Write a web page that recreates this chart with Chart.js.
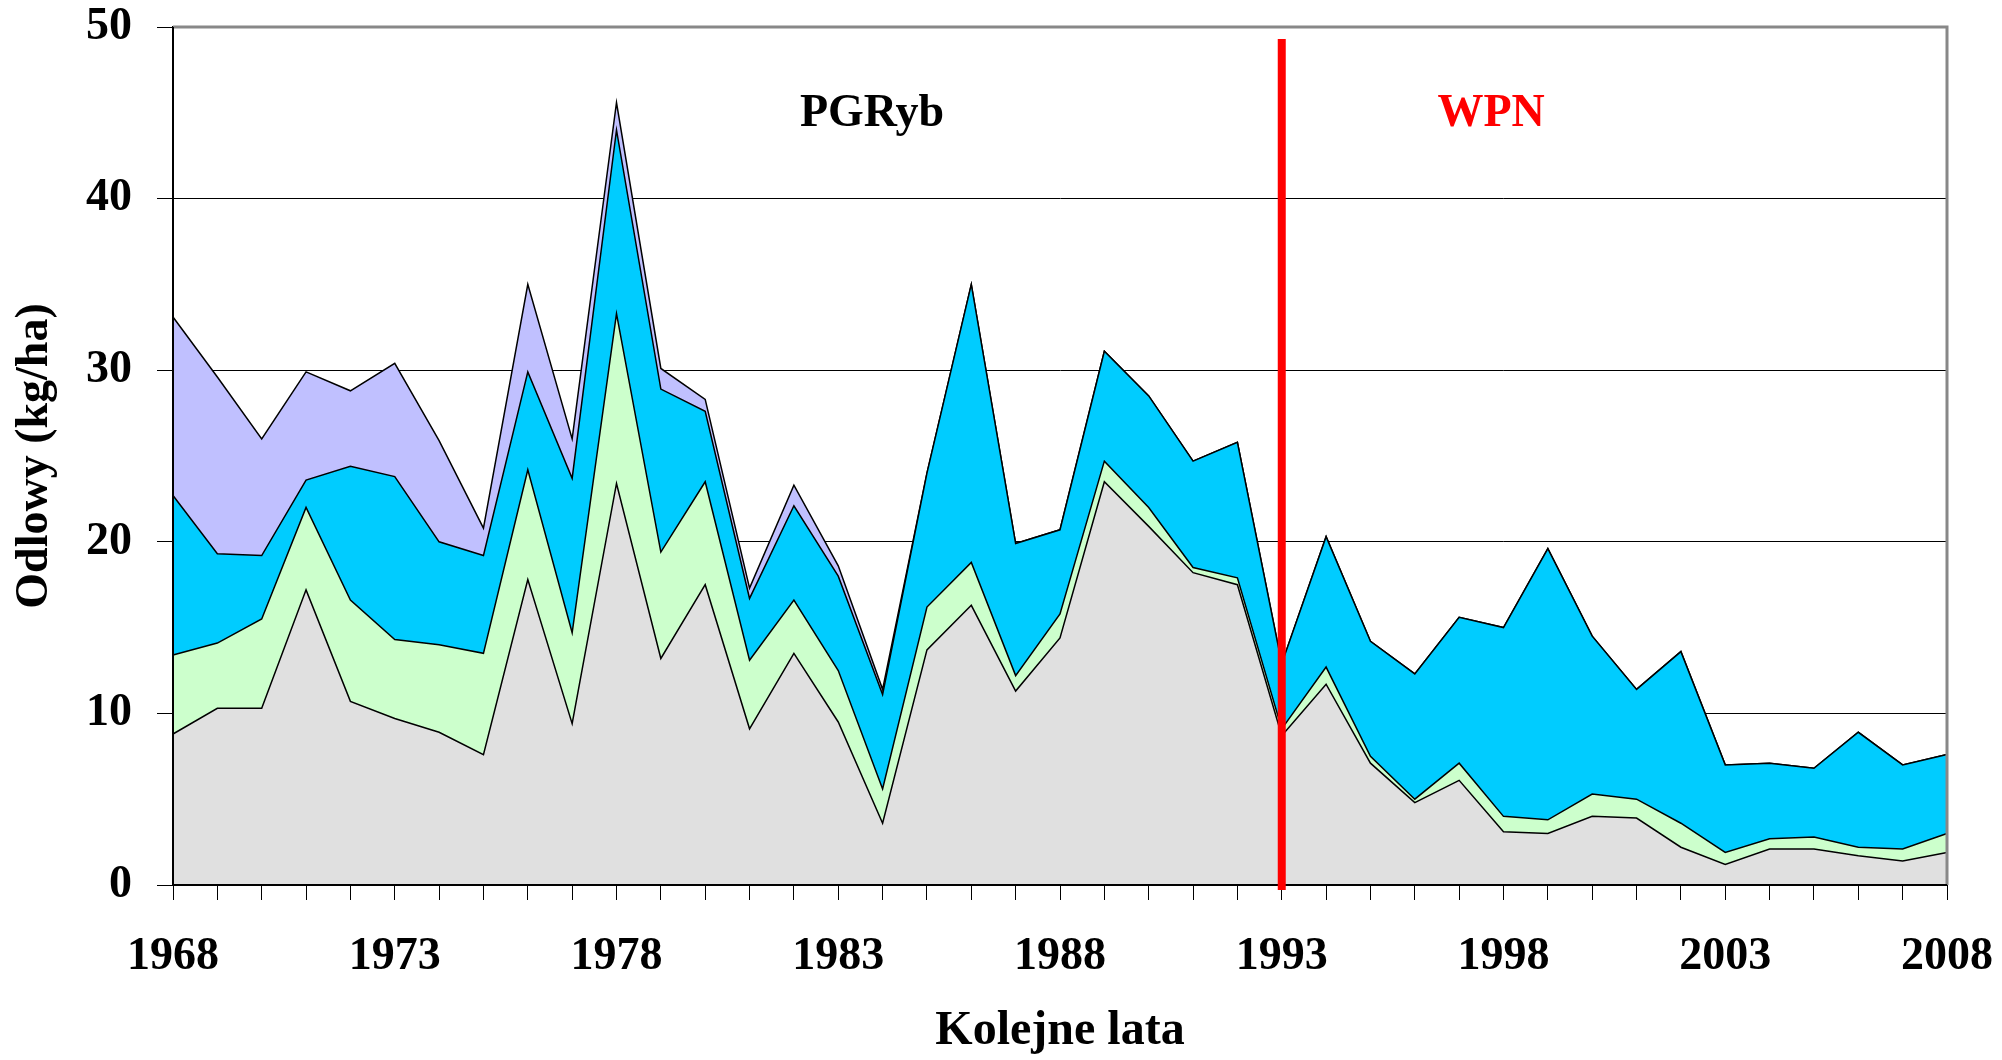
<!DOCTYPE html>
<html lang="pl">
<head>
<meta charset="UTF-8">
<title>Odłowy (kg/ha)</title>
<script src="https://cdn.jsdelivr.net/npm/chart.js"></script>
<style>
  html,body{margin:0;padding:0;background:#fff}
  #wrap{width:2002px;height:1060px}
</style>
</head>
<body>
<div id="wrap"><canvas id="wykres" width="2002" height="1060"></canvas></div>
<script>
/* ---------- dane (kg/ha, warstwy skumulowane) ---------- */
const lata = [1968,1969,1970,1971,1972,1973,1974,1975,1976,1977,
              1978,1979,1980,1981,1982,1983,1984,1985,1986,1987,
              1988,1989,1990,1991,1992,1993,1994,1995,1996,1997,
              1998,1999,2000,2001,2002,2003,2004,2005,2006,2007,2008];

// warstwa 1 – szara (dół)
const seriaSzara = [8.8,10.3,10.3,17.2,10.7,9.7,8.9,7.6,17.8,9.4,
                    23.4,13.2,17.5,9.1,13.5,9.5,3.6,13.7,16.3,11.3,
                    14.4,23.5,20.9,18.2,17.5,8.7,11.7,7.1,4.8,6.1,
                    3.1,3.0,4.0,3.9,2.2,1.2,2.1,2.1,1.7,1.4,1.9];
// warstwa 2 – jasnozielona
const seriaZielona = [4.6,3.8,5.2,4.8,5.9,4.6,5.1,5.9,6.4,5.3,
                      9.9,6.2,6.0,4.0,3.1,3.0,2.0,2.5,2.5,0.9,
                      1.4,1.2,1.1,0.3,0.4,0.4,1.0,0.4,0.2,1.0,
                      0.9,0.8,1.3,1.1,1.4,0.7,0.6,0.7,0.5,0.7,1.1];
// warstwa 3 – błękitna
const seriaNiebieska = [9.3,5.2,3.7,1.6,7.8,9.5,6.0,5.7,5.7,9.0,
                        10.7,9.5,4.1,3.6,5.5,5.5,5.5,7.8,16.2,7.7,
                        4.9,6.4,6.5,6.2,7.9,3.8,7.6,6.7,7.3,8.5,
                        11.0,15.8,9.2,6.4,10.0,5.1,4.4,4.0,6.7,4.9,4.6];
// warstwa 4 – fioletowa (góra)
const seriaFioletowa = [10.4,10.3,6.8,6.3,4.4,6.6,5.9,1.6,5.1,2.3,
                        1.6,1.2,0.7,0.6,1.2,0.6,0.3,0,0,0,
                        0,0,0,0,0,0,0,0,0,0,
                        0,0,0,0,0,0,0,0,0,0,0];

const yTicks = [0,10,20,30,40,50];
const rokZmiany = 1993;

const FONT = '"Liberation Serif","Times New Roman",serif';

/* ---------- dodatki: ramka, czerwona linia, napisy ---------- */
const dodatki = {
  id:'dodatki',
  afterDatasetsDraw(chart){
    const {ctx, chartArea:a, scales:{x,y}} = chart;
    ctx.save();
    // ramka obszaru wykresu (góra i prawa strona szara)
    ctx.strokeStyle = '#888';
    ctx.lineWidth = 3;
    ctx.beginPath();
    ctx.moveTo(a.left, a.top); ctx.lineTo(a.right, a.top); ctx.lineTo(a.right, a.bottom);
    ctx.stroke();
    // osie
    ctx.strokeStyle = '#000';
    ctx.lineWidth = 2;
    ctx.beginPath();
    ctx.moveTo(a.left, a.top); ctx.lineTo(a.left, a.bottom); ctx.lineTo(a.right, a.bottom);
    ctx.stroke();
    // czerwona linia 1993
    const xr = x.getPixelForValue(lata.indexOf(rokZmiany));
    ctx.strokeStyle = '#ff0000';
    ctx.lineWidth = 8;
    ctx.beginPath();
    ctx.moveTo(xr, y.getPixelForValue(49.3));
    ctx.lineTo(xr, a.bottom + 5);
    ctx.stroke();
    // napisy okresów
    ctx.font = 'bold 46px ' + FONT;
    ctx.textAlign = 'center';
    ctx.textBaseline = 'middle';
    ctx.fillStyle = '#000';
    ctx.fillText('PGRyb', x.getPixelForValue(15.76), y.getPixelForValue(44.9));
    ctx.fillStyle = '#ff0000';
    ctx.fillText('WPN', x.getPixelForValue(29.72), y.getPixelForValue(44.9));
    ctx.restore();
  }
};

const warstwa = (dane, kolor, fill) => ({
  data: dane,
  backgroundColor: kolor,
  borderColor: '#000',
  borderWidth: 1.5,
  pointRadius: 0,
  tension: 0,
  fill: fill
});

new Chart(document.getElementById('wykres'), {
  type: 'line',
  data: {
    labels: lata,
    datasets: [
      warstwa(seriaSzara, '#e0e0e0', 'origin'),
      warstwa(seriaZielona, '#ccffcc', '-1'),
      warstwa(seriaNiebieska, '#00ccff', '-1'),
      warstwa(seriaFioletowa, '#c0c0ff', '-1')
    ]
  },
  options: {
    responsive: false,
    animation: false,
    layout: { padding: { left: 0, right: 55, top: 27, bottom: 0 } },
    plugins: { legend: { display: false }, tooltip: { enabled: false } },
    scales: {
      x: {
        offset: false,
        afterFit(s){ s.height = 175; s.paddingLeft = 0; s.paddingRight = 0; },
        grid: { drawOnChartArea: false, color: '#000', tickLength: 15 },
        border: { color: '#000', width: 2 },
        ticks: {
          autoSkip: false, maxRotation: 0, padding: 30, color: '#000',
          font: { family: FONT, size: 46, weight: 'bold' },
          callback: (v, i) => (lata[i] - 1968) % 5 === 0 ? String(lata[i]) : ''
        },
        title: {
          display: true, text: 'Kolejne lata', color: '#000',
          font: { family: FONT, size: 48, weight: 'bold' },
          padding: { top: 0, bottom: 0 }
        }
      },
      y: {
        stacked: true,
        min: 0, max: 50,
        afterFit(s){ s.width = 173; s.paddingTop = 0; s.paddingBottom = 0; },
        afterBuildTicks(s){ s.ticks = yTicks.map(v => ({ value: v })); },
        grid: { color: '#000', lineWidth: 1, tickLength: 16 },
        border: { color: '#000', width: 2 },
        ticks: {
          padding: 25, color: '#000',
          font: { family: FONT, size: 46, weight: 'bold' }
        },
        title: {
          display: true, text: 'Odlowy (kg/ha)', color: '#000',
          font: { family: FONT, size: 46, weight: 'bold' },
          padding: { top: 8, bottom: 0 }
        }
      }
    }
  },
  plugins: [dodatki]
});
</script>
</body>
</html>
